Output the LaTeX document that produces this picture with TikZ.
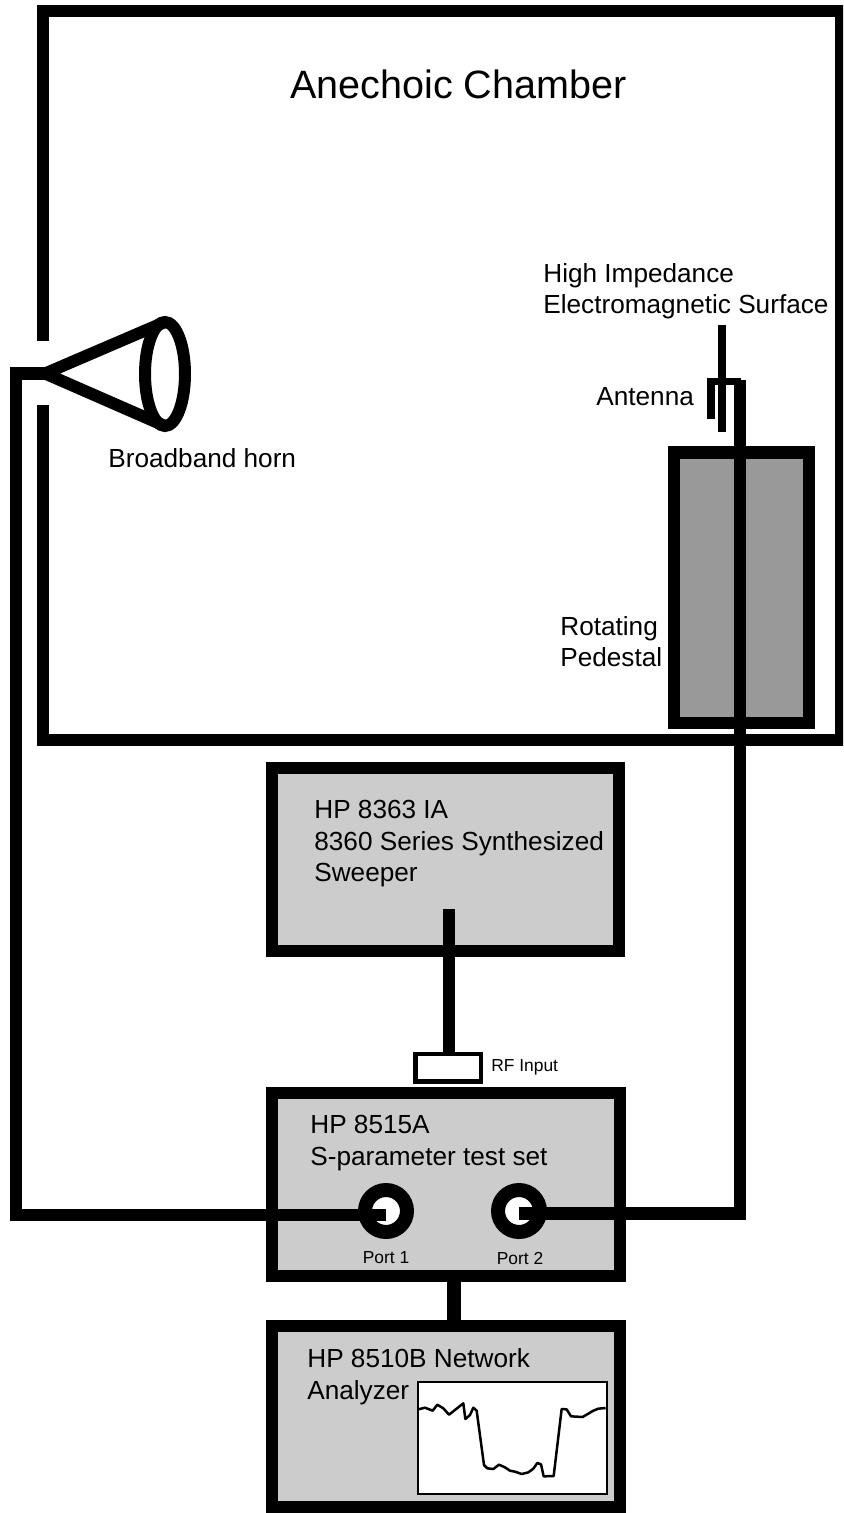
\documentclass[tikz,border=0pt]{standalone}
\usepackage{fontspec}
\setmainfont{Liberation Sans}
\usepackage{xcolor}
\usetikzlibrary{shapes.geometric}
\definecolor{InstGray}{RGB}{204,204,204}
\definecolor{PedestalGray}{RGB}{153,153,153}
\tikzset{
  wall/.style={draw=black, line width=0.24cm},
  cable/.style={draw=black, line width=0.25cm},
  thinlead/.style={draw=black, line width=0.15cm},
  instbox/.style={draw=black, line width=0.25cm, fill=InstGray, inner sep=0pt, outer sep=0pt},
  pedestal/.style={instbox, fill=PedestalGray, minimum width=2.7cm, minimum height=5.41cm},
  portring/.style={circle, draw=black, line width=0.28cm, fill=white, inner sep=0pt, outer sep=0pt, minimum size=0.84cm},
  lab/.style={anchor=base west, inner sep=0pt, font=\fontsize{14.9pt}{17pt}\selectfont},
  biglab/.style={lab, font=\fontsize{22.5pt}{26pt}\selectfont},
  tinylab/.style={lab, font=\fontsize{9.9pt}{11pt}\selectfont},
}
\begin{document}
\begin{tikzpicture}[x=0.02cm, y=-0.02cm]
  \useasboundingbox (0,0) rectangle (843,1513);
  \clip (0,0) rectangle (843,1513);
  % chamber
  \coordinate (gaptop) at (43,341);
  \coordinate (gapbot) at (43,405);
  \draw[wall] (gaptop) -- (43,11) -- (841,11) -- (841,739.5) -- (43,739.5) -- (gapbot);
  \node[biglab] (title) at (290,98.5) {Anechoic Chamber};
  % horn
  \node[ellipse, draw=black, line width=0.24cm, inner sep=0pt, outer sep=0pt, minimum width=0.8cm, minimum height=2.08cm] (horn) at (165,374) {};
  \coordinate (apex) at (45,373.5);
  \draw[wall] (horn.north) -- (apex) -- (horn.south);
  \node[lab] (hornlab) at (108,467) {Broadband horn};
  % pedestal and antenna
  \node[pedestal] (ped) at (741.5,587.75) {};
  \node[lab] (surf1) at (543,283) {High Impedance};
  \node[lab] (surf2) at (543,314) {Electromagnetic Surface};
  \node[lab] (antlab) at (596,405) {Antenna};
  \node[lab] (rot1) at (560,635) {Rotating};
  \node[lab] (rot2) at (560,666) {Pedestal};
  \coordinate (surftop) at (722,325);
  \coordinate (surfbot) at (722,432);
  \draw[thinlead] (surftop) -- (surfbot);
  \draw[thinlead] (711,419) -- (711,381.5) -- (741,381.5);
  % instruments
  \node[instbox, minimum width=6.94cm, minimum height=3.66cm] (sweeper) at (445.5,859.5) {};
  \node[lab] (sw1) at (314,818) {HP 8363 IA};
  \node[lab] (sw2) at (314,850) {8360 Series Synthesized};
  \node[lab] (sw3) at (314,881) {Sweeper};
  \node[instbox, fill=white, line width=0.09cm, minimum width=1.31cm, minimum height=0.55cm] (rfin) at (448,1067.5) {};
  \node[tinylab] (rflab) at (491,1071) {RF Input};
  \node[instbox, minimum width=6.96cm, minimum height=3.66cm] (testset) at (446,1184.5) {};
  \node[lab] (ts1) at (310,1133) {HP 8515A};
  \node[lab] (ts2) at (310,1165) {S-parameter test set};
  \node[portring] (port1) at (386,1211) {};
  \node[portring] (port2) at (519,1211) {};
  \node[tinylab, anchor=base] (p1lab) at (386,1263) {Port 1};
  \node[tinylab, anchor=base] (p2lab) at (520,1264) {Port 2};
  \node[instbox, minimum width=6.96cm, minimum height=3.62cm] (analyzer) at (446,1416.5) {};
  \node[lab] (an1) at (307,1367) {HP 8510B Network};
  \node[lab] (an2) at (307,1399) {Analyzer};
  \node[draw=black, line width=0.04cm, fill=white, inner sep=0pt, outer sep=0pt, minimum width=3.78cm, minimum height=2.24cm] (screen) at (512.5,1438) {};
  % connections
  \coordinate (p1tap) at (386,1215);
  \coordinate (p2tap) at (519,1213.5);
  \draw[cable] (p1tap) -- (16,1215) -- (16,373.5) -- (apex);
  \draw[cable] (p2tap) -- (740,1213.5) -- (740,380);
  \coordinate (sweepout) at (449,909);
  \draw[cable] (sweepout) -- (sweepout |- rfin.north);
  \coordinate (anlink) at (454,1200);
  \draw[cable, line width=0.28cm] (testset.south -| anlink) -- (analyzer.north -| anlink);
  % trace
  \begin{scope}[shift={(400,1370)}, x=0.00667cm, y=-0.00667cm]
    \draw[line width=0.05cm, line join=round] (55,118) -- (75,113) -- (98,122) -- (112,104) -- (130,115) -- (147,134) -- (190,100) -- (196,147) -- (210,135) -- (220,113) -- (230,122) -- (252,285) -- (262,295) -- (280,297) -- (297,284) -- (315,292) -- (330,302) -- (345,305) -- (365,312) -- (385,307) -- (400,296) -- (412,279) -- (423,283) -- (431,319) -- (461,318) -- (485,117) -- (500,118) -- (513,139) -- (548,141) -- (580,122) -- (595,116) -- (617,114);
  \end{scope}
\end{tikzpicture}
\end{document}
